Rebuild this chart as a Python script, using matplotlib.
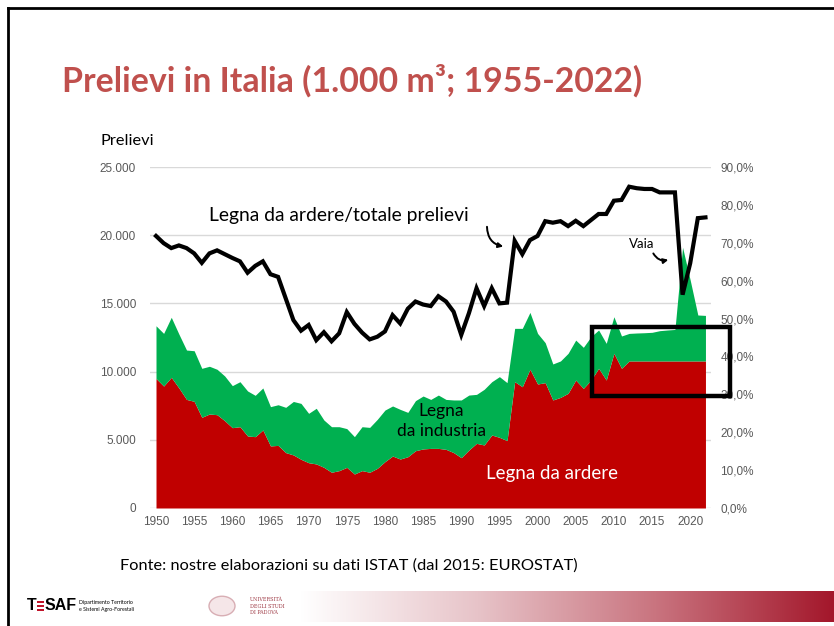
import numpy as np
import matplotlib
matplotlib.use("Agg")
import matplotlib.pyplot as plt
from matplotlib.patches import Rectangle, FancyArrowPatch, Circle
from matplotlib.lines import Line2D
from matplotlib.colors import LinearSegmentedColormap

# --- data (1.000 m3) ---
years = list(range(1950, 2023))

ardere = [9500, 8940, 9580, 8800, 7960, 7820, 6650, 6890, 6840, 6400,
          5890, 5960, 5280, 5230, 5720, 4550, 4590, 4060, 3890, 3570,
          3320, 3230, 2980, 2620, 2740, 2980, 2490, 2740, 2620, 2910,
          3400, 3810, 3590, 3760, 4200, 4330, 4370, 4370, 4300, 4060,
          3690, 4250, 4740, 4620, 5350, 5180, 4940, 9260, 8890, 10170,
          9090, 9190, 7920, 8110, 8410, 9380, 8770, 9380, 10240, 9380,
          11340, 10240, 10780, 10780, 10780, 10780, 10780, 10780, 10780, 10780,
          10780, 10780, 10780]

totale = [13360, 12800, 13980, 12750, 11580, 11530, 10240, 10390, 10170, 9680,
          8970, 9260, 8580, 8260, 8800, 7430, 7570, 7380, 7810, 7670,
          6940, 7310, 6450, 5960, 5960, 5820, 5230, 5960, 5910, 6500,
          7180, 7480, 7230, 7010, 7870, 8210, 7960, 8280, 7960, 7920,
          7920, 8280, 8330, 8700, 9260, 9630, 9190, 13170, 13170, 14340,
          12800, 12120, 10560, 10780, 11340, 12310, 11780, 12560, 13050, 12070,
          14020, 12610, 12800, 12830, 12850, 12880, 13000, 13050, 13090, 19110,
          16710, 14150, 14120]

quota = [71.8, 69.9, 68.6, 69.3, 68.6, 67.2, 64.7, 67.2, 68.0, 67.0,
         66.0, 65.1, 62.1, 63.9, 65.1, 61.7, 61.0, 55.3, 49.6, 46.8,
         48.3, 44.3, 46.4, 44.0, 46.1, 51.7, 48.6, 46.3, 44.5, 45.2,
         46.6, 50.9, 48.7, 52.6, 54.5, 53.7, 53.3, 55.9, 54.5, 51.8,
         45.7, 51.4, 58.0, 53.3, 58.0, 54.0, 54.2, 70.5, 67.0, 70.7,
         71.8, 75.7, 75.3, 75.7, 74.4, 75.8, 74.4, 76.0, 77.6, 77.6,
         81.1, 81.3, 84.8, 84.4, 84.2, 84.2, 83.3, 83.3, 83.3, 56.3,
         64.6, 76.5, 76.7]

left_ticks = [0, 5000, 10000, 15000, 20000, 25000]
left_labels = ["0", "5.000", "10.000", "15.000", "20.000", "25.000"]
right_ticks = [0, 10, 20, 30, 40, 50, 60, 70, 80, 90]
right_labels = ["0,0%", "10,0%", "20,0%", "30,0%", "40,0%", "50,0%",
                "60,0%", "70,0%", "80,0%", "90,0%"]
x_ticks = list(range(1950, 2021, 5))

RED = "#C00000"
GREEN = "#00B050"
GRAY = "#595959"
W, H = 834, 626


def px(x, y):
    # pixel position -> figure fraction
    return x / W, 1 - y / H


plt.rcParams["font.family"] = ["Lato", "DejaVu Sans"]

fig = plt.figure(figsize=(8.34, 6.26), dpi=100)
fig.patch.set_facecolor("white")

ax = fig.add_axes([149.9 / W, 1 - 508 / H, 560.9 / W, 341 / H])
ax.fill_between(years, 0, ardere, color=RED, lw=0)
ax.fill_between(years, ardere, totale, color=GREEN, lw=0)
ax.set_xlim(1949.2, 2022.7)
ax.set_ylim(0, 25000)
ax.set_yticks(left_ticks)
ax.set_yticklabels(left_labels, fontfamily="Liberation Sans")
ax.set_xticks(x_ticks)
ax.set_xticklabels([str(y) for y in x_ticks], fontfamily="Liberation Sans")
ax.tick_params(axis="both", length=0, labelsize=8.5, labelcolor=GRAY)
ax.tick_params(axis="y", pad=10)
ax.tick_params(axis="x", pad=6)
ax.grid(axis="y", color="#D9D9D9", lw=1)
ax.set_axisbelow(True)
for s in ax.spines.values():
    s.set_visible(False)

ax2 = ax.twinx()
ax2.plot(years, quota, color="black", lw=3, solid_joinstyle="miter")
ax2.set_ylim(0, 90)
ax2.set_yticks(right_ticks)
ax2.set_yticklabels(right_labels, fontfamily="Liberation Sans")
ax2.tick_params(axis="y", length=0, labelsize=8.5, labelcolor=GRAY, pad=7)
for s in ax2.spines.values():
    s.set_visible(False)

# --- texts ---
fig.text(*px(62, 81), "Prelievi in Italia (1.000 m³; 1955-2022)", color="#C0504D",
         fontsize=24.4, fontweight="bold", va="center", ha="left")
fig.text(*px(100, 141), "Prelievi", fontsize=11.8, va="center", ha="left")
fig.text(*px(209, 215), "Legna da ardere/totale prelievi", fontsize=13.9,
         va="center", ha="left")
fig.text(*px(441, 421), "Legna\nda industria", fontsize=12.5, va="center",
         ha="center", linespacing=1.35)
fig.text(*px(552, 473), "Legna da ardere", fontsize=13.5, color="white",
         va="center", ha="center")
fig.text(*px(642, 244), "Vaia", fontsize=9.5, va="center", ha="center")
fig.text(*px(120, 566), "Fonte: nostre elaborazioni su dati ISTAT (dal 2015: EUROSTAT)",
         fontsize=11.8, va="center", ha="left")

# curved arrows
for a, b in [((487, 224), (506, 247)), ((652, 251), (671, 259))]:
    fig.add_artist(FancyArrowPatch(px(*a), px(*b), transform=fig.transFigure,
                                   connectionstyle="arc3,rad=0.45",
                                   arrowstyle="-|>", mutation_scale=7,
                                   lw=1.4, color="black"))

# highlight box
x0, y0 = px(591.5, 395.5)
x1, y1 = px(729.5, 327)
fig.add_artist(Rectangle((x0, y0), x1 - x0, y1 - y0, transform=fig.transFigure,
                         fill=False, ec="black", lw=3.2, zorder=10))

# slide border
fig.add_artist(Line2D([8 / W, 8 / W], [0, 1 - 8 / H], color="black", lw=2,
                      transform=fig.transFigure))
fig.add_artist(Line2D([8 / W, 1], [1 - 8 / H, 1 - 8 / H], color="black", lw=2,
                      transform=fig.transFigure))

# footer: logos and gradient bar
fig.text(*px(27, 606), "T", fontsize=11.5, fontweight="bold",
         fontfamily="Liberation Sans", va="center", ha="left")
for dy in (-4, 0, 4):
    bx, by = px(37, 606 + dy + 1.2)
    fig.add_artist(Rectangle((bx, by), 7 / W, 2.4 / H, transform=fig.transFigure,
                             fc="#C0142A", ec="none"))
fig.text(*px(45, 606), "SAF", fontsize=11.5, fontweight="bold",
         fontfamily="Liberation Sans", va="center", ha="left")
fig.text(*px(79, 606), "Dipartimento Territorio\ne Sistemi Agro-Forestali",
         fontsize=3.8, va="center", ha="left", linespacing=1.3)
fig.add_artist(Circle(px(222, 606), 13 / W, transform=fig.transFigure,
                      fc="#F5E6E8", ec="#D8AEB4", lw=1))
fig.text(*px(250, 606), "UNIVERSITÀ\nDEGLI STUDI\nDI PADOVA", fontsize=3.5,
         fontfamily="DejaVu Serif", color="#9E3A45", va="center", ha="left",
         linespacing=1.4)

gax = fig.add_axes([300 / W, 1 - 622 / H, 534 / W, 31 / H])
grad = LinearSegmentedColormap.from_list("g", ["#FFFFFF", "#E7C3C8", "#C9747F", "#A3172B"])
gax.imshow(np.linspace(0, 1, 256).reshape(1, -1), cmap=grad, aspect="auto")
gax.axis("off")

fig.savefig("out.png", dpi=100)
